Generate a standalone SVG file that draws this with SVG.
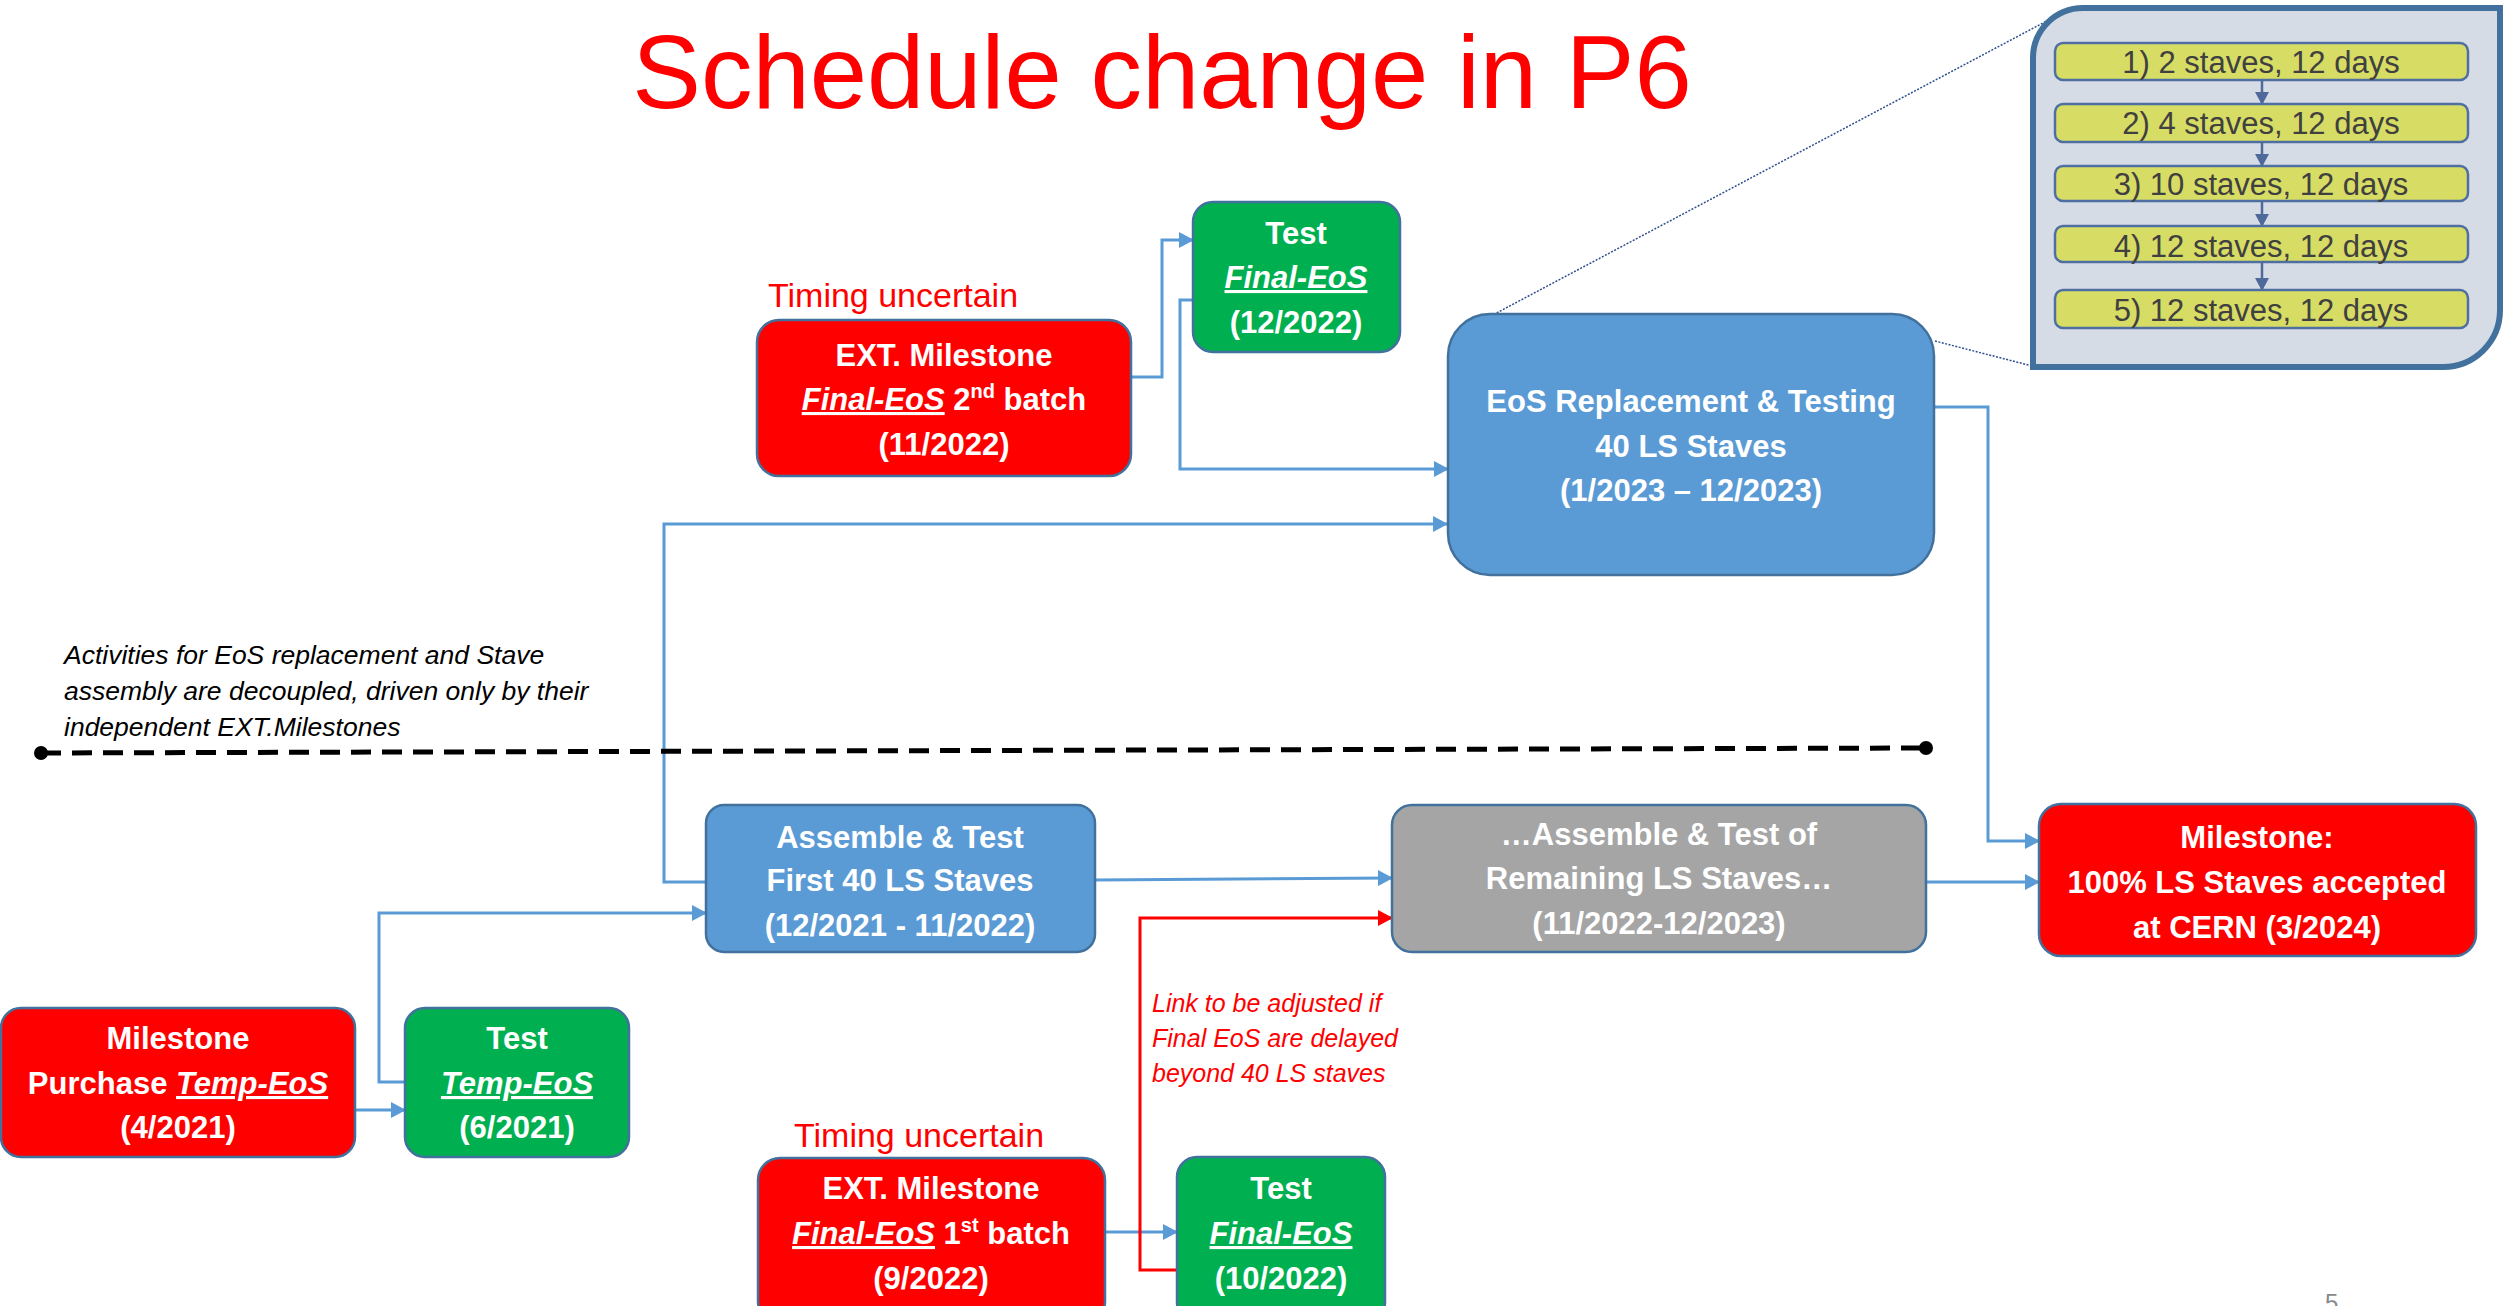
<svg xmlns="http://www.w3.org/2000/svg" width="2504" height="1306" viewBox="0 0 2504 1306">
<style>
  text { font-family: "Liberation Sans", Arial, sans-serif; }
  .box { stroke: #41719C; stroke-width: 2.5; }
  .red { fill: #FF0000; }
  .green { fill: #00B050; }
  .blue { fill: #5B9BD5; }
  .gray { fill: #A5A5A5; }
  .nt { font-weight: bold; font-size: 31px; fill: #FFFFFF; text-anchor: middle; }
  .u { font-style: italic; text-decoration: underline; }
  .note { font-size: 34px; fill: #FF0000; }
  .conn { fill: none; stroke: #5B9BD5; stroke-width: 3; }
  .connr { fill: none; stroke: #FF0000; stroke-width: 3; }
  .step { fill: #D7DC64; stroke: #4F6FA3; stroke-width: 2.5; }
  .st { font-size: 31px; fill: #404040; text-anchor: middle; }
  .sarrow { fill: none; stroke: #4F6A9A; stroke-width: 2.5; }
</style>
<defs>
  <marker id="ab" markerUnits="userSpaceOnUse" markerWidth="16" markerHeight="16" refX="14" refY="8" orient="auto">
    <path d="M0,0 L15,8 L0,16 Z" fill="#5B9BD5"/>
  </marker>
  <marker id="ar" markerUnits="userSpaceOnUse" markerWidth="16" markerHeight="16" refX="14" refY="8" orient="auto">
    <path d="M0,0 L15,8 L0,16 Z" fill="#FF0000"/>
  </marker>
  <marker id="as" markerUnits="userSpaceOnUse" markerWidth="14" markerHeight="14" refX="12" refY="7" orient="auto">
    <path d="M0,0 L13,7 L0,14 Z" fill="#4F6A9A"/>
  </marker>
</defs>

<rect width="2504" height="1306" fill="#FFFFFF"/>

<text x="1162" y="108" font-size="103" fill="#FF0000" text-anchor="middle">Schedule change in P6</text>

<!-- connectors -->
<g id="connectors">
  <path class="conn" d="M1131,377 H1162 V240 H1193" marker-end="url(#ab)"/>
  <path class="conn" d="M1193,300 H1180 V469 H1448" marker-end="url(#ab)"/>
  <path class="conn" d="M706,882 H664 V524 H1447" marker-end="url(#ab)"/>
  <path class="conn" d="M405,1082 H379 V913 H706" marker-end="url(#ab)"/>
  <path class="conn" d="M355,1110 H405" marker-end="url(#ab)"/>
  <path class="conn" d="M1095,880 L1392,878" marker-end="url(#ab)"/>
  <path class="conn" d="M1926,882 H2039" marker-end="url(#ab)"/>
  <path class="conn" d="M1934,407 H1988 V841 H2039" marker-end="url(#ab)"/>
  <path class="conn" d="M1105,1232 H1177" marker-end="url(#ab)"/>
  <path class="connr" d="M1177,1270 H1140 V918 H1392" marker-end="url(#ar)"/>
  <line x1="1472" y1="326" x2="2058" y2="15" stroke="#2F4F8F" stroke-width="1.5" stroke-dasharray="2 1.5"/>
  <line x1="1935" y1="341" x2="2032" y2="366" stroke="#2F4F8F" stroke-width="1.5" stroke-dasharray="2 1.5"/>
</g>

<!-- divider -->
<g id="divider">
  <line x1="41" y1="753" x2="1926" y2="748" stroke="#000000" stroke-width="5" stroke-dasharray="20 11"/>
  <circle cx="41" cy="753" r="7" fill="#000000"/>
  <circle cx="1926" cy="748" r="7" fill="#000000"/>
  <text font-size="26.5" font-style="italic" fill="#000000">
    <tspan x="64" y="664">Activities for EoS replacement and Stave</tspan>
    <tspan x="64" y="700">assembly are decoupled, driven only by their</tspan>
    <tspan x="64" y="736">independent EXT.Milestones</tspan>
  </text>
</g>

<g id="n-ext2">
  <text class="note" x="768" y="307">Timing uncertain</text>
  <rect class="box red" x="757" y="320" width="374" height="156" rx="22"/>
  <text class="nt" x="944" y="366">EXT. Milestone</text>
  <text class="nt" x="944" y="410"><tspan class="u">Final-EoS</tspan> 2<tspan font-size="20" dy="-12">nd</tspan><tspan dy="12"> batch</tspan></text>
  <text class="nt" x="944" y="455">(11/2022)</text>
</g>

<g id="n-test12">
  <rect class="box green" x="1193" y="202" width="207" height="150" rx="20"/>
  <text class="nt" x="1296" y="244">Test</text>
  <text class="nt" x="1296" y="288"><tspan class="u">Final-EoS</tspan></text>
  <text class="nt" x="1296" y="333">(12/2022)</text>
</g>

<g id="n-eos">
  <rect class="box blue" x="1448" y="314" width="486" height="261" rx="42"/>
  <text class="nt" x="1691" y="412">EoS Replacement &amp; Testing</text>
  <text class="nt" x="1691" y="457">40 LS Staves</text>
  <text class="nt" x="1691" y="501">(1/2023 – 12/2023)</text>
</g>

<g id="n-inset">
  <path d="M2033,367 L2033,58 A50,50 0 0 1 2083,8 L2500,8 L2500,310 A57,57 0 0 1 2443,367 Z" fill="#D6DCE5" stroke="#41719C" stroke-width="6"/>
  <rect class="step" x="2055" y="43" width="413" height="37" rx="8"/>
  <rect class="step" x="2055" y="104" width="413" height="38" rx="8"/>
  <rect class="step" x="2055" y="166" width="413" height="35" rx="8"/>
  <rect class="step" x="2055" y="226" width="413" height="36" rx="8"/>
  <rect class="step" x="2055" y="290" width="413" height="38" rx="8"/>
  <line class="sarrow" x1="2262" y1="80" x2="2262" y2="104" marker-end="url(#as)"/>
  <line class="sarrow" x1="2262" y1="142" x2="2262" y2="166" marker-end="url(#as)"/>
  <line class="sarrow" x1="2262" y1="201" x2="2262" y2="226" marker-end="url(#as)"/>
  <line class="sarrow" x1="2262" y1="262" x2="2262" y2="290" marker-end="url(#as)"/>
  <text class="st" x="2261" y="73">1) 2 staves, 12 days</text>
  <text class="st" x="2261" y="134">2) 4 staves, 12 days</text>
  <text class="st" x="2261" y="195">3) 10 staves, 12 days</text>
  <text class="st" x="2261" y="257">4) 12 staves, 12 days</text>
  <text class="st" x="2261" y="321">5) 12 staves, 12 days</text>
</g>

<g id="n-assemble">
  <rect class="box blue" x="706" y="805" width="389" height="147" rx="18"/>
  <text class="nt" x="900" y="848">Assemble &amp; Test</text>
  <text class="nt" x="900" y="891">First 40 LS Staves</text>
  <text class="nt" x="900" y="936">(12/2021 - 11/2022)</text>
</g>

<g id="n-remaining">
  <rect class="box gray" x="1392" y="805" width="534" height="147" rx="20"/>
  <text class="nt" x="1659" y="845">…Assemble &amp; Test of</text>
  <text class="nt" x="1659" y="889">Remaining LS Staves…</text>
  <text class="nt" x="1659" y="934">(11/2022-12/2023)</text>
</g>

<g id="n-cern">
  <rect class="box red" x="2039" y="804" width="437" height="152" rx="22"/>
  <text class="nt" x="2257" y="848">Milestone:</text>
  <text class="nt" x="2257" y="893">100% LS Staves accepted</text>
  <text class="nt" x="2257" y="938">at CERN (3/2024)</text>
</g>

<g id="n-purchase">
  <rect class="box red" x="1" y="1008" width="354" height="149" rx="20"/>
  <text class="nt" x="178" y="1049">Milestone</text>
  <text class="nt" x="178" y="1094">Purchase <tspan class="u">Temp-EoS</tspan></text>
  <text class="nt" x="178" y="1138">(4/2021)</text>
</g>

<g id="n-testtemp">
  <rect class="box green" x="405" y="1008" width="224" height="149" rx="20"/>
  <text class="nt" x="517" y="1049">Test</text>
  <text class="nt" x="517" y="1094"><tspan class="u">Temp-EoS</tspan></text>
  <text class="nt" x="517" y="1138">(6/2021)</text>
</g>

<g id="n-ext1">
  <text class="note" x="794" y="1147">Timing uncertain</text>
  <rect class="box red" x="758" y="1158" width="347" height="165" rx="22"/>
  <text class="nt" x="931" y="1199">EXT. Milestone</text>
  <text class="nt" x="931" y="1244"><tspan class="u">Final-EoS</tspan> 1<tspan font-size="20" dy="-12">st</tspan><tspan dy="12"> batch</tspan></text>
  <text class="nt" x="931" y="1289">(9/2022)</text>
</g>

<g id="n-test10">
  <rect class="box green" x="1177" y="1157" width="208" height="165" rx="20"/>
  <text class="nt" x="1281" y="1199">Test</text>
  <text class="nt" x="1281" y="1244"><tspan class="u">Final-EoS</tspan></text>
  <text class="nt" x="1281" y="1289">(10/2022)</text>
</g>

<g id="link-note">
  <text font-size="25" font-style="italic" fill="#FF0000">
    <tspan x="1152" y="1012">Link to be adjusted if</tspan>
    <tspan x="1152" y="1047">Final EoS are delayed</tspan>
    <tspan x="1152" y="1082">beyond 40 LS staves</tspan>
  </text>
</g>

<text x="2325" y="1311" font-size="24" fill="#898989">5</text>
</svg>
